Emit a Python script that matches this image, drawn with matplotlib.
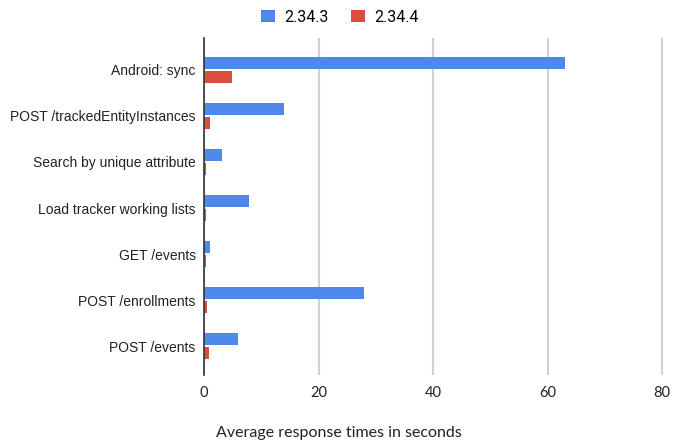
import matplotlib
matplotlib.use("Agg")
import matplotlib.pyplot as plt
import numpy as np

categories = ["Android: sync", "POST /trackedEntityInstances", "Search by unique attribute",
              "Load tracker working lists", "GET /events", "POST /enrollments", "POST /events"]
series_names = ["2.34.3", "2.34.4"]
v2343 = [63.0, 14.0, 3.1, 7.9, 1.1, 28.0, 5.9]
v2344 = [4.9, 1.1, 0.35, 0.35, 0.3, 0.5, 0.9]
xticks = [0, 20, 40, 60, 80]
xlabel = "Average response times in seconds"

blue = "#4f87eb"
red = "#db4e3f"

fig = plt.figure(figsize=(6.74, 4.45), dpi=100)
ax = fig.add_axes([204/674, 1-375/445, 461/674, (375-38)/445])

y = np.arange(len(categories))
h = 0.26
off = 0.16
ax.barh(y - off, v2343, height=h, color=blue, label=series_names[0], zorder=3)
ax.barh(y + off, v2344, height=h, color=red, label=series_names[1], zorder=3)

ax.set_xlim(0, 80.5)
ax.set_ylim(6 + 29/46, -32/46)
ax.set_yticks(y)
ax.set_yticklabels(categories, fontsize=10, family="Liberation Sans", color="#222222")
ax.set_xticks(xticks)
ax.set_xticklabels([str(t) for t in xticks], fontsize=10.5, family="Lato", color="#222222")
ax.tick_params(axis="both", length=0)
ax.tick_params(axis="x", pad=8)
ax.tick_params(axis="y", pad=6)
ax.grid(axis="x", color="#d0d0d0", linewidth=1.5, zorder=0)
for s in ["top", "right", "bottom"]:
    ax.spines[s].set_visible(False)
ax.spines["left"].set_color("#333333")
ax.spines["left"].set_linewidth(1.2)
ax.spines["left"].set_zorder(4)

fig.text(339/674, 1-433/445, xlabel, ha="center", va="center", fontsize=11.5, family="Lato", color="#222222")

fig.legend(loc="center", bbox_to_anchor=(340/674, 1-17/445), ncol=2, frameon=False,
           prop={"family": "Roboto", "size": 11.5}, handlelength=0.85, handleheight=0.85,
           handletextpad=0.6, columnspacing=1.4)

fig.savefig("out.png", dpi=100)
